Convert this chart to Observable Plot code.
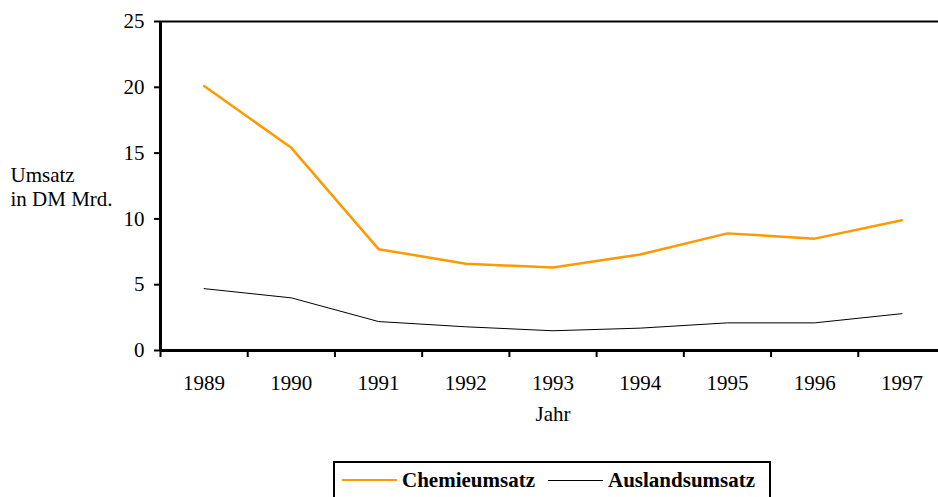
<!DOCTYPE html>
<html>
<head>
<meta charset="utf-8">
<script src="https://cdn.jsdelivr.net/npm/d3@7"></script>
<script src="https://cdn.jsdelivr.net/npm/@observablehq/plot@0.6"></script>
<style>
  html, body { margin: 0; padding: 0; background: #fff; overflow: hidden; width: 938px; height: 497px; }
  #chart { position: relative; width: 945px; }
  #legend {
    position: absolute; left: 333px; top: 461px; width: 438px; height: 50px;
    border: 2px solid #000; box-sizing: border-box; background: #fff;
    font-family: "Liberation Serif", "Times New Roman", serif; font-size: 21px; font-weight: bold;
  }
  #legend .item { position: absolute; top: 4px; display: flex; align-items: center; height: 26px; }
  #legend .sw { display: inline-block; width: 55px; margin-right: 5px; }
</style>
</head>
<body>
<div id="chart"></div>
<div id="legend">
  <span class="item" style="left:7px"><span class="sw" style="border-top:2.5px solid #FF9900"></span>Chemieumsatz</span>
  <span class="item" style="left:213px"><span class="sw" style="border-top:1px solid #000"></span>Auslandsumsatz</span>
</div>
<script>
const years = [1989, 1990, 1991, 1992, 1993, 1994, 1995, 1996, 1997];
const chemieumsatz = [20.1, 15.4, 7.7, 6.6, 6.3, 7.3, 8.9, 8.5, 9.9];
const auslandsumsatz = [4.7, 4.0, 2.2, 1.8, 1.5, 1.7, 2.1, 2.1, 2.8];
const yTicks = [0, 5, 10, 15, 20, 25];
const seriesNames = ["Chemieumsatz", "Auslandsumsatz"];

const chemie = years.map((y, i) => ({year: y, value: chemieumsatz[i], series: seriesNames[0]}));
const ausland = years.map((y, i) => ({year: y, value: auslandsumsatz[i], series: seriesNames[1]}));
const boundaries = d3.range(years[0] - 0.5, years[years.length - 1] + 1, 1);

const font = "'Liberation Serif', 'Times New Roman', serif";

const chart = Plot.plot({
  width: 945,
  height: 455,
  marginLeft: 160,
  marginRight: 0,
  marginTop: 21,
  marginBottom: 105,
  style: {fontFamily: font, fontSize: "21px", color: "#000", background: "#fff"},
  x: {type: "linear", domain: [years[0] - 0.5, years[years.length - 1] + 0.5]},
  y: {domain: [0, 25]},
  marks: [
    Plot.axisY(yTicks, {tickSize: 6, tickPadding: 10, strokeWidth: 2, label: null, fontSize: 21}),
    Plot.axisX(boundaries, {tickSize: 7, tickFormat: () => "", strokeWidth: 2, label: null}),
    Plot.axisX(years, {tickSize: 0, tickPadding: 25, tickFormat: d => String(d), label: null, fontSize: 21}),
    Plot.ruleY([25], {stroke: "#000", strokeWidth: 2}),
    Plot.ruleY([0], {stroke: "#000", strokeWidth: 3}),
    Plot.ruleX([years[0] - 0.5], {stroke: "#000", strokeWidth: 3}),
    Plot.line(ausland, {x: "year", y: "value", stroke: "#000", strokeWidth: 1}),
    Plot.line(chemie, {x: "year", y: "value", stroke: "#FF9900", strokeWidth: 2.5}),
    Plot.text(["Umsatz\nin DM Mrd."], {frameAnchor: "left", dx: -150, textAnchor: "start", lineHeight: 1.15, fontSize: 21}),
    Plot.text(["Jahr"], {frameAnchor: "bottom", dy: 70, fontSize: 21})
  ]
});
document.getElementById("chart").appendChild(chart);
</script>
</body>
</html>
